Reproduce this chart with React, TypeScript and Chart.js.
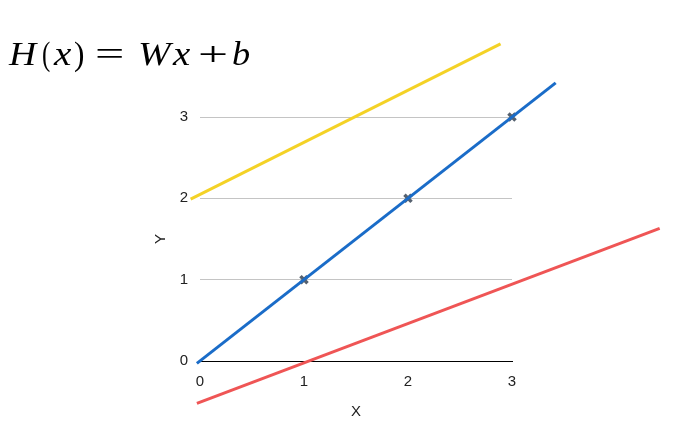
import React, { useEffect, useMemo, useRef } from "react";
import { Chart, registerables } from "chart.js";

Chart.register(...registerables);

const xTicks = [0, 1, 2, 3];
const yTicks = [0, 1, 2, 3];
const yellowX = [-0.09, 2.89];
const yellowY = [1.99, 3.9];
const blueX = [-0.03, 3.42];
const blueY = [-0.03, 3.42];
const redX = [-0.03, 4.42];
const redY = [-0.52, 1.63];
const pointX = [1, 2, 3];
const pointY = [1, 2, 3];

const zip = (xs: number[], ys: number[]) => xs.map((x, i) => ({ x, y: ys[i] }));

const tickFont = { family: "'Liberation Sans', Arial, sans-serif", size: 15 };
const SERIF = "'Liberation Serif', 'Times New Roman', serif";
const TITLE_SIZE = 34;
const BASELINE = 65;

// title glyphs with their ink extents (left, right) in the picture
const titlePieces: { t: string; l: number; r: number; italic: boolean }[] = [
  { t: "H", l: 8.3, r: 39.3, italic: true },
  { t: "(", l: 42.7, r: 50, italic: false },
  { t: "x", l: 53.3, r: 71.7, italic: true },
  { t: ")", l: 75, r: 83.3, italic: false },
  { t: "=", l: 96.7, r: 122.7, italic: false },
  { t: "W", l: 140, r: 173.3, italic: true },
  { t: "x", l: 171.7, r: 190, italic: true },
  { t: "+", l: 200, r: 226.7, italic: false },
  { t: "b", l: 233.3, r: 249.3, italic: true },
];

function layoutTitle() {
  const c = document.createElement("canvas");
  const ctx = c.getContext("2d")!;
  return titlePieces.map((p) => {
    ctx.font = `${p.italic ? "italic " : ""}${TITLE_SIZE}px ${SERIF}`;
    const m = ctx.measureText(p.t);
    const abl = m.actualBoundingBoxLeft;
    const abr = m.actualBoundingBoxRight;
    const ink = abl + abr || 1;
    const sx = (p.r - p.l) / ink;
    const asc = m.fontBoundingBoxAscent || TITLE_SIZE * 0.891;
    const desc = m.fontBoundingBoxDescent || TITLE_SIZE * 0.216;
    // line-height equals font size: baseline sits at top + asc - (asc+desc-size)/2
    const top = BASELINE - (asc - (asc + desc - TITLE_SIZE) / 2);
    return { ...p, left: p.l + abl * sx, sx, top };
  });
}

export default function App() {
  const ref = useRef<HTMLCanvasElement | null>(null);
  const pieces = useMemo(() => layoutTitle(), []);
  useEffect(() => {
    if (!ref.current) return;
    const chart = new Chart(ref.current, {
      type: "line",
      data: {
        datasets: [
          {
            data: zip(yellowX, yellowY),
            borderColor: "#f4d226",
            borderWidth: 3,
            pointRadius: 0,
            clip: false as any,
            order: 1,
          },
          {
            data: zip(blueX, blueY),
            borderColor: "#1a6cc8",
            borderWidth: 3,
            pointRadius: 0,
            clip: false as any,
            order: 1,
          },
          {
            data: zip(redX, redY),
            borderColor: "#ef5555",
            borderWidth: 3,
            pointRadius: 0,
            clip: false as any,
            order: 1,
          },
          {
            data: zip(pointX, pointY),
            showLine: false,
            pointStyle: "crossRot",
            pointRadius: 5,
            pointBorderWidth: 3.5,
            pointBorderColor: "#56616f",
            borderColor: "#56616f",
            clip: false as any,
            order: 5,
          },
        ],
      },
      options: {
        animation: false,
        responsive: false,
        events: [],
        layout: { padding: { left: 148, top: 117, right: 170, bottom: 20 } },
        plugins: { legend: { display: false }, tooltip: { enabled: false } },
        scales: {
          x: {
            type: "linear",
            min: 0,
            max: 3,
            afterBuildTicks: (s: any) => {
              s.ticks = xTicks.map((v) => ({ value: v }));
            },
            afterFit: (s: any) => {
              s.height = 63;
            },
            grid: { display: false, drawTicks: false },
            border: { display: true, color: "#000", width: 1 },
            ticks: { padding: 12, color: "#222", font: tickFont },
            title: { display: true, text: "X", color: "#222", font: tickFont, padding: { top: 4, bottom: 3 } },
          },
          y: {
            type: "linear",
            min: 0,
            max: 3,
            afterBuildTicks: (s: any) => {
              s.ticks = yTicks.map((v) => ({ value: v }));
            },
            afterFit: (s: any) => {
              s.width = 52;
            },
            grid: {
              drawTicks: false,
              color: (c: any) => (c.tick && c.tick.value === 0 ? "rgba(0,0,0,0)" : "#c4c4c4"),
              lineWidth: 1,
            },
            border: { display: false },
            ticks: { padding: 12, color: "#222", font: tickFont },
            title: { display: true, text: "Y", color: "#222", font: tickFont, padding: { top: 4, bottom: 4 } },
          },
        },
      },
    });
    return () => chart.destroy();
  }, []);

  return (
    <div style={{ position: "absolute", left: 0, top: 0, width: 682, height: 444, background: "#fff" }}>
      <canvas ref={ref} width={682} height={444} style={{ position: "absolute", left: 0, top: 0 }} />
      {pieces.map((p, i) => (
        <span
          key={i}
          style={{
            position: "absolute",
            left: p.left,
            top: p.top,
            fontFamily: SERIF,
            fontSize: TITLE_SIZE,
            lineHeight: `${TITLE_SIZE}px`,
            height: TITLE_SIZE,
            display: "block",
            fontStyle: p.italic ? "italic" : "normal",
            color: "#000",
            transform: `scaleX(${p.sx})`,
            transformOrigin: "left center",
            whiteSpace: "pre",
          }}
        >
          {p.t}
        </span>
      ))}
    </div>
  );
}
